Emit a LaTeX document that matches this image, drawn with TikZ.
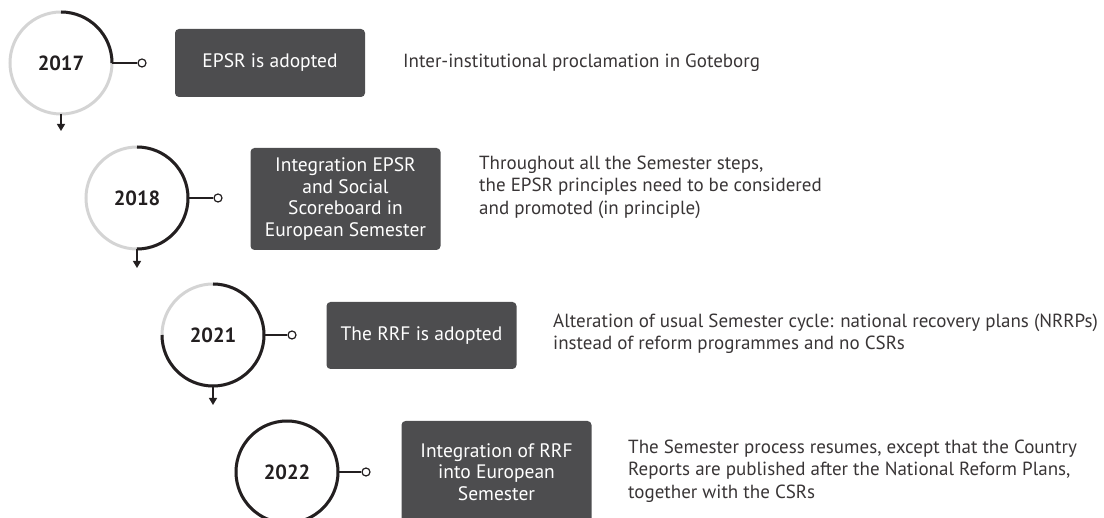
\documentclass[tikz,border=0pt]{standalone}
\usepackage{fontspec}
\setmainfont{PT Sans}
\usetikzlibrary{arrows.meta}
\definecolor{boxgray}{HTML}{4D4D4F}
\definecolor{ringgray}{HTML}{D4D4D4}
\definecolor{ink}{HTML}{231F20}
\tikzset{
  year/.style={circle, draw=ringgray, line width=3pt, minimum size=102pt, inner sep=0pt, outer sep=0pt,
    text=ink, font=\fontsize{20.5}{22}\selectfont\bfseries},
  event/.style={fill=boxgray, rounded corners=4pt, text=white, align=center, minimum width=190pt,
    inner sep=0pt, font=\fontsize{19.5}{21.7}\selectfont},
  note/.style={anchor=west, align=left, text=ink!90, inner sep=0pt, font=\fontsize{19}{22.5}\selectfont},
  dot/.style={circle, draw=ink, fill=white, line width=1.2pt, minimum size=8pt, inner sep=0pt},
}
\begin{document}
\begin{tikzpicture}[x=1pt,y=-1pt]
  \clip (0,0) rectangle (1104,518);
  \node[year] (c1) at (61,63)  {2017};
  \node[year] (c2) at (137,198) {2018};
  \node[year] (c3) at (213,335) {2021};
  \node[year] (c4) at (287,472) {2022};

  \node[dot] (d1) at (142,63)  {};
  \node[dot] (d2) at (218,198) {};
  \node[dot] (d3) at (292,335) {};
  \node[dot] (d4) at (366,472) {};

  \coordinate (a1) at (61,131);
  \coordinate (a2) at (137,268);
  \coordinate (a3) at (213,405);

  \node[event, minimum height=68pt]  (b1) at (270,63)      {EPSR is adopted};
  \node[event, minimum height=102pt] (b2) at (345.5,199)   {Integration EPSR\\and Social\\Scoreboard in\\European Semester};
  \node[event, minimum height=67pt]  (b3) at (421.5,335.5) {The RRF is adopted};
  \node[event, minimum height=102pt] (b4) at (496.5,472)   {Integration of RRF\\into European\\Semester};

  \node[note] (n1) at (403,63)  {Inter-institutional proclamation in Goteborg};
  \node[note] (n2) at (479,187) {Throughout all the Semester steps,\\the EPSR principles need to be considered\\and promoted (in principle)};
  \node[note] (n3) at (553,334) {Alteration of usual Semester cycle: national recovery plans (NRRPs)\\instead of reform programmes and no CSRs};
  \node[note] (n4) at (628,471) {The Semester process resumes, except that the Country\\Reports are published after the National Reform Plans,\\together with the CSRs};

  \def\list {c1/0, c2/-90, c3/-180, c4/-270}  % black part of each ring
  \foreach \c\e in \list
  {  \draw[ink, line width=3pt] (\c.north) arc[start angle=90, end angle=\e, radius=51pt];
  }
  \foreach \c\d in {c1/d1, c2/d2, c3/d3, c4/d4}
  {  \draw[ink, line width=1.8pt] (\c) -- (\d);
  }
  \foreach \c\a in {c1/a1, c2/a2, c3/a3}
  {  \draw[ink, line width=1.3pt, -{Triangle[width=8pt,length=7pt]}] (\c.south) -- (\a);
  }
\end{tikzpicture}
\end{document}
